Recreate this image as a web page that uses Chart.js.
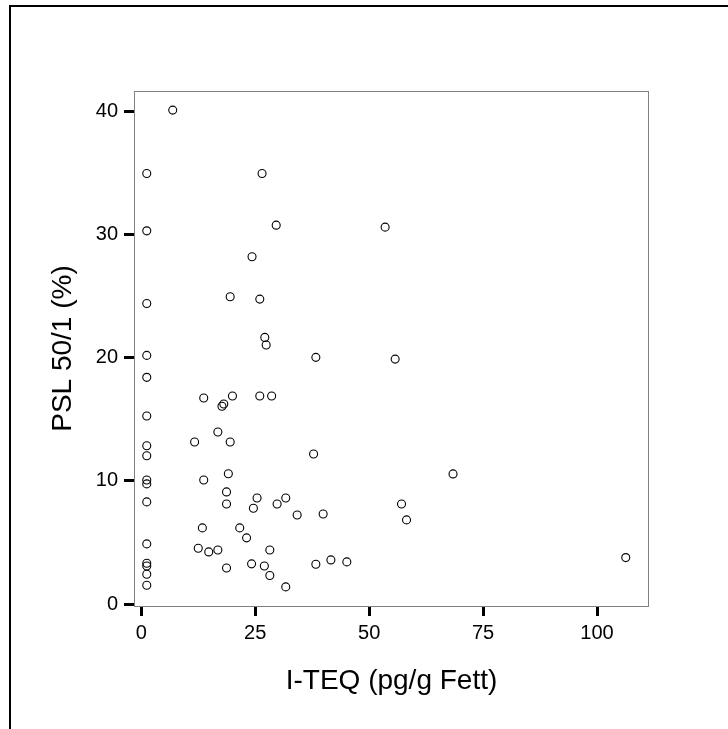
<!DOCTYPE html>
<html>
<head>
<meta charset="utf-8">
<script src="https://cdn.jsdelivr.net/npm/chart.js@4.4.0/dist/chart.umd.min.js"></script>
<style>
  body { margin: 0; background: #fff; }
  #wrap { position: relative; width: 728px; height: 729px; }
  #frame { position: absolute; left: 9px; top: 5px; right: 0; bottom: 0;
           border-top: 2px solid #000; border-left: 2px solid #000; pointer-events: none; }
</style>
</head>
<body>
<div id="wrap">
  <canvas id="scatterChart"></canvas>
  <div id="frame"></div>
</div>
<script>
// I-TEQ (pg/g Fett) vs PSL 50/1 (%)
const xValues = [
  6.9, 1.2, 26.5, 1.2, 29.6, 24.3, 53.5, 1.2, 19.5, 26.0,
  27.1, 27.4, 1.2, 1.2, 13.7, 20.0, 26.0, 28.6, 18.1, 17.7,
  1.2, 16.8, 11.7, 19.5, 1.2, 1.2, 19.1, 1.2, 1.2, 1.2,
  13.7, 18.7, 18.7, 25.4, 24.6, 29.8, 13.4, 21.6, 23.1, 1.2,
  12.5, 14.8, 16.8, 28.2, 1.2, 1.2, 1.2, 1.2, 18.7, 24.2,
  27.0, 28.2, 38.3, 55.7, 37.8, 68.4, 31.7, 34.2, 39.9, 57.1,
  58.2, 31.7, 38.3, 41.6, 45.1, 106.3
];
const yValues = [
  40.1, 34.95, 34.95, 30.3, 30.76, 28.2, 30.6, 24.4, 24.95, 24.76,
  21.65, 21.03, 20.19, 18.41, 16.73, 16.9, 16.9, 16.9, 16.25, 16.06,
  15.27, 13.97, 13.16, 13.16, 12.86, 12.05, 10.58, 10.08, 9.76, 8.3,
  10.08, 9.11, 8.13, 8.62, 7.78, 8.13, 6.19, 6.19, 5.38, 4.89,
  4.54, 4.24, 4.4, 4.4, 3.32, 3.1, 2.43, 1.54, 2.94, 3.27,
  3.1, 2.32, 20.03, 19.89, 12.19, 10.57, 8.62, 7.24, 7.32, 8.13,
  6.84, 1.4, 3.24, 3.59, 3.43, 3.78
];
const xTicks = [0, 25, 50, 75, 100];
const yTicks = [0, 10, 20, 30, 40];

const points = xValues.map((x, i) => ({ x: x, y: yValues[i] }));

// gray box around the plot area
const plotFrame = {
  id: 'plotFrame',
  afterDatasetsDraw(chart) {
    const a = chart.chartArea;
    const ctx = chart.ctx;
    ctx.save();
    ctx.strokeStyle = '#808080';
    ctx.lineWidth = 1;
    ctx.strokeRect(a.left + 0.5, a.top + 0.5, a.right - a.left - 1, a.bottom - a.top);
    ctx.restore();
  }
};

const fontFamily = "'Liberation Sans', Arial, sans-serif";

new Chart("scatterChart", {
  type: "scatter",
  data: {
    datasets: [{
      data: points,
      borderColor: "#000",
      backgroundColor: "rgba(0,0,0,0)",
      pointRadius: 4,
      pointBorderWidth: 1.1,
      pointHoverRadius: 4
    }]
  },
  options: {
    responsive: true,
    maintainAspectRatio: false,
    animation: false,
    events: [],
    layout: { padding: { left: 0, top: 91, right: 79, bottom: 0 } },
    plugins: { legend: { display: false }, tooltip: { enabled: false } },
    scales: {
      x: {
        type: "linear",
        min: -1.6,
        max: 111.4,
        afterFit(scale) { scale.height = 123; },
        afterBuildTicks(scale) { scale.ticks = xTicks.map(v => ({ value: v })); },
        border: { display: false },
        grid: { drawOnChartArea: false, drawTicks: true, tickLength: 10, tickWidth: 3, tickColor: "#000" },
        ticks: { autoSkip: false, maxRotation: 0, padding: 5, color: "#000",
                 font: { family: fontFamily, size: 20 } },
        title: { display: true, text: "I-TEQ (pg/g Fett)", color: "#000",
                 font: { family: fontFamily, size: 28 }, padding: { top: 0, bottom: 31 } }
      },
      y: {
        type: "linear",
        min: -0.15,
        max: 41.65,
        afterFit(scale) { scale.width = 134; },
        afterBuildTicks(scale) { scale.ticks = yTicks.map(v => ({ value: v })); },
        border: { display: false },
        grid: { drawOnChartArea: false, drawTicks: true, tickLength: 10, tickWidth: 3, tickColor: "#000" },
        ticks: { autoSkip: false, padding: 6, color: "#000",
                 font: { family: fontFamily, size: 20 } },
        title: { display: true, text: "PSL 50/1 (%)", color: "#000",
                 font: { family: fontFamily, size: 28 }, padding: { top: 46, bottom: 0 } }
      }
    }
  },
  plugins: [plotFrame]
});
</script>
</body>
</html>
